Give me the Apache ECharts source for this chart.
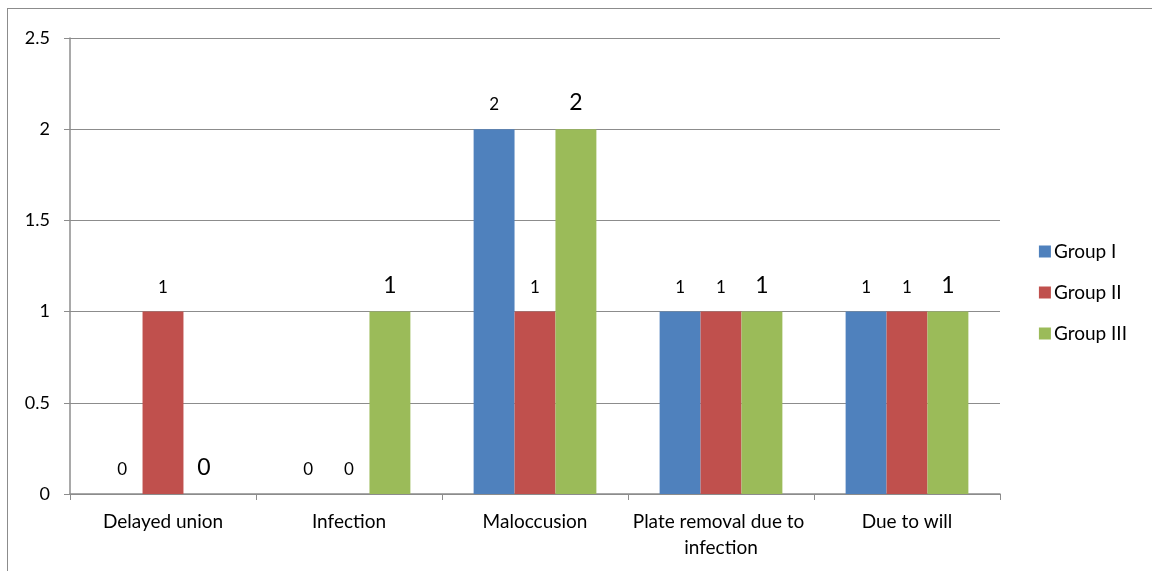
<!DOCTYPE html>
<html>
<head>
<meta charset="utf-8">
<script src="https://cdn.jsdelivr.net/npm/echarts@6/dist/echarts.min.js"></script>
<style>
  html, body { margin: 0; padding: 0; background: #fff; }
  #frame { position: absolute; left: 7px; top: 8px; width: 1200px; height: 600px; border: 1px solid #8c8c8c; box-sizing: border-box; }
  #chart { position: absolute; left: 0; top: 0; width: 1152px; height: 571px; }
</style>
</head>
<body>
<div id="frame"></div>
<div id="chart"></div>
<script>
const categories = ['Delayed union', 'Infection', 'Maloccusion', 'Plate removal due to infection', 'Due to will'];
const groupNames = ['Group I', 'Group II', 'Group III'];
const group1 = [0, 0, 2, 1, 1];
const group2 = [1, 0, 1, 1, 1];
const group3 = [0, 1, 2, 1, 1];
const yTicks = [0, 0.5, 1, 1.5, 2, 2.5];

const colors = ['#4f81bd', '#c0504d', '#9bbb59'];
const font = 'Lato, "Open Sans", sans-serif';

const chart = echarts.init(document.getElementById('chart'));

function barSeries(name, values, color, labelSize, dist) {
    return {
        name: name,
        type: 'bar',
        data: values,
        barGap: '0%',
        barCategoryGap: '34%',
        itemStyle: { color: color },
        label: {
            show: true,
            position: 'top',
            distance: dist,
            color: '#000',
            fontFamily: font,
            fontSize: labelSize
        }
    };
}

let option = {
    animation: false,
    grid: { left: 70, right: 152, top: 38, bottom: 77 },
    legend: {
        orient: 'vertical',
        right: 20,
        top: 237,
        itemGap: 22,
        itemWidth: 12,
        itemHeight: 12,
        icon: 'rect',
        textStyle: { fontFamily: font, fontSize: 19, color: '#000', padding: [0, 0, 0, -2] },
        data: groupNames
    },
    xAxis: {
        type: 'category',
        data: categories,
        axisLine: { lineStyle: { color: '#8c8c8c', width: 1.5 } },
        axisTick: { show: true, length: 6, lineStyle: { color: '#8c8c8c' } },
        axisLabel: {
            interval: 0,
            color: '#000',
            fontFamily: font,
            fontSize: 19,
            margin: 15,
            width: 190,
            overflow: 'break',
            lineHeight: 26
        }
    },
    yAxis: {
        type: 'value',
        min: yTicks[0],
        max: yTicks[yTicks.length - 1],
        interval: 0.5,
        axisLine: { show: true, lineStyle: { color: '#8c8c8c', width: 1.5 } },
        axisTick: { show: true, length: 6, lineStyle: { color: '#8c8c8c' } },
        splitLine: { lineStyle: { color: '#8c8c8c' } },
        axisLabel: { color: '#000', fontFamily: font, fontSize: 18, margin: 20 }
    },
    series: [
        barSeries(groupNames[0], group1, colors[0], 17, 16),
        barSeries(groupNames[1], group2, colors[1], 17, 16),
        barSeries(groupNames[2], group3, colors[2], 23, 15)
    ]
};
chart.setOption(option);
</script>
</body>
</html>
